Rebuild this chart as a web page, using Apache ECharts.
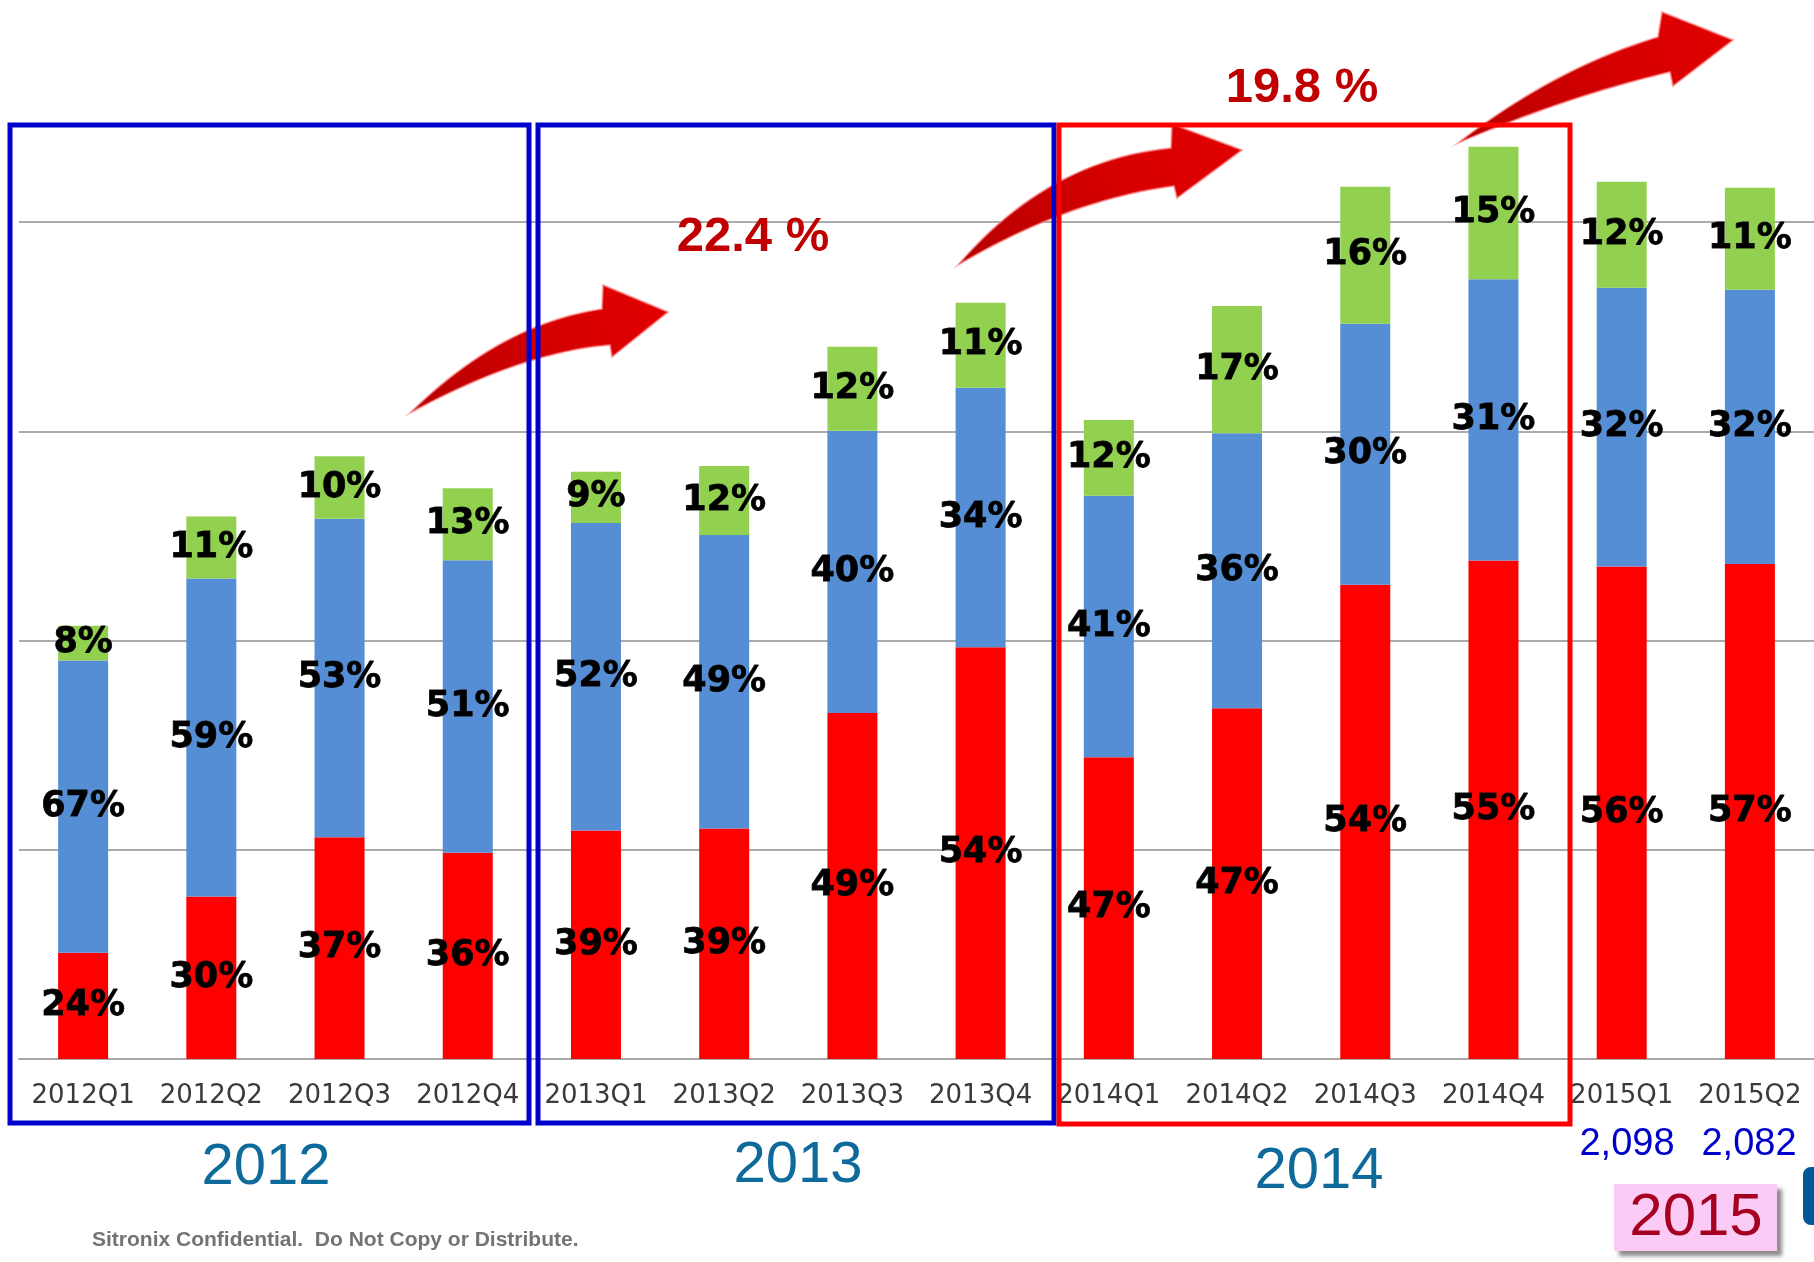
<!DOCTYPE html>
<html>
<head>
<meta charset="utf-8">
<script src="https://cdn.jsdelivr.net/npm/echarts@6/dist/echarts.min.js"></script>
<style>
  html, body { margin: 0; padding: 0; background: #fff; }
  #chart { width: 1814px; height: 1262px; }
</style>
</head>
<body>
<div id="chart"></div>
<script>
// quarters on the x axis
var quarters = ['2012Q1','2012Q2','2012Q3','2012Q4','2013Q1','2013Q2','2013Q3','2013Q4',
                '2014Q1','2014Q2','2014Q3','2014Q4','2015Q1','2015Q2'];
// stacked segments (same unit as the 2,098 / 2,082 totals)
var redVals   = [254, 388, 530, 493, 546, 551, 827, 984, 721, 838, 1133, 1191, 1177, 1183];
var blueVals  = [698, 760, 761, 699, 735, 701, 674, 620, 625, 657, 624, 672, 666, 655];
var greenVals = [83, 148, 149, 172, 122, 165, 201, 203, 181, 304, 327, 317, 253, 244];
// percentage labels printed in each segment
var redPct   = ['24%','30%','37%','36%','39%','39%','49%','54%','47%','47%','54%','55%','56%','57%'];
var bluePct  = ['67%','59%','53%','51%','52%','49%','40%','34%','41%','36%','30%','31%','32%','32%'];
var greenPct = ['8%','11%','10%','13%','9%','12%','12%','11%','12%','17%','16%','15%','12%','11%'];
// growth notes and year captions
var growthNotes = ['22.4 %', '19.8 %'];
var yearNames = ['2012', '2013', '2014', '2015'];
var totalNotes = ['2,098', '2,082'];

var myChart = echarts.init(document.getElementById('chart'));

var segLabel = function (texts) {
    return {
        show: true,
        position: 'inside',
        color: '#000',
        fontFamily: 'DejaVu Sans',
        fontWeight: 'bold',
        fontSize: 35,
        textBorderColor: '#111',
        textBorderWidth: 0.8,
        formatter: function (p) { return texts[p.dataIndex]; }
    };
};

var makeSeries = function (name, vals, color, texts) {
    return {
        name: name,
        type: 'bar',
        stack: 'total',
        barWidth: 50,
        clip: false,
        data: vals,
        itemStyle: { color: color },
        label: segLabel(texts)
    };
};

// swoosh arrow outline: quadratic edges sampled into a polygon
var quad = function (a, c, b, n) {
    var pts = [];
    for (var i = 0; i <= n; i++) {
        var t = i / n, u = 1 - t;
        pts.push([u * u * a[0] + 2 * u * t * c[0] + t * t * b[0],
                  u * u * a[1] + 2 * u * t * c[1] + t * t * b[1]]);
    }
    return pts;
};
var arrowPoints = function (t, c1, j1, b1, p, b2, j2, c2) {
    var pts = quad(t, c1, j1, 24);
    pts.push(b1, p, b2);
    return pts.concat(quad(j2, c2, t, 24));
};
var arrowStyle = function () {
    return {
        fill: new echarts.graphic.LinearGradient(0, 1, 1, 0, [
            { offset: 0, color: '#B40000' },
            { offset: 0.6, color: '#D80000' },
            { offset: 1, color: '#E20000' }
        ]),
        stroke: 'rgba(255,140,140,0.6)',
        lineWidth: 2
    };
};

var texts = function (txt, x, y, font, color) {
    return {
        type: 'text', z: 20,
        style: { text: txt, x: x, y: y, font: font, fill: color,
                 textAlign: 'center', textVerticalAlign: 'middle' }
    };
};

var chart_option = {
    animation: false,
    backgroundColor: '#fff',
    grid: { left: 19, width: 1800, top: 222, bottom: 203 },
    xAxis: {
        type: 'category',
        data: quarters,
        axisLine: { lineStyle: { color: '#A8A8A8', width: 2 } },
        axisTick: { length: 9, lineStyle: { color: '#A0A0A0', width: 1.5 } },
        axisLabel: {
            margin: 24,
            color: '#3A3A3A',
            fontFamily: 'DejaVu Sans',
            fontSize: 26,
            interval: 0
        }
    },
    yAxis: {
        type: 'value',
        min: 0,
        max: 2000,
        interval: 500,
        axisLine: { show: false },
        axisTick: { show: false },
        axisLabel: { show: false },
        splitLine: { lineStyle: { color: '#ABABAB', width: 2 } }
    },
    series: [
        makeSeries('red', redVals, '#FF0000', redPct),
        makeSeries('blue', blueVals, '#558ED5', bluePct),
        makeSeries('green', greenVals, '#92D050', greenPct)
    ],
    graphic: [
        // arrows
        { type: 'polygon', z: 10, shape: { points: arrowPoints([410, 413], [500, 324], [602, 309], [603, 285],
            [668, 312], [612, 357], [610, 345], [522, 352]) }, style: arrowStyle() },
        { type: 'polygon', z: 10, shape: { points: arrowPoints([958, 265], [1048, 160], [1171, 148], [1172, 124],
            [1242, 150], [1177, 198], [1174, 186], [1068, 200]) }, style: arrowStyle() },
        { type: 'polygon', z: 10, shape: { points: arrowPoints([1458, 143], [1555, 68], [1658, 37], [1662, 12],
            [1733, 40], [1673, 86], [1670, 72], [1568, 96]) }, style: arrowStyle() },
        // year boxes
        { type: 'rect', z: 12, shape: { x: 10, y: 125, width: 519, height: 998 },
          style: { fill: 'none', stroke: '#0000CC', lineWidth: 5 } },
        { type: 'rect', z: 12, shape: { x: 538, y: 125, width: 516, height: 998 },
          style: { fill: 'none', stroke: '#0000CC', lineWidth: 5 } },
        { type: 'rect', z: 12, shape: { x: 1059, y: 125, width: 511, height: 999 },
          style: { fill: 'none', stroke: '#FF0000', lineWidth: 5 } },
        // growth notes
        texts(growthNotes[0], 753, 237, 'bold 49px "Liberation Sans"', '#C00000'),
        texts(growthNotes[1], 1302, 88, 'bold 49px "Liberation Sans"', '#C00000'),
        // year captions
        texts(yearNames[0], 266, 1168, '58px "Liberation Sans"', '#0E6A9A'),
        texts(yearNames[1], 798, 1166, '58px "Liberation Sans"', '#0E6A9A'),
        texts(yearNames[2], 1319, 1172, '58px "Liberation Sans"', '#0E6A9A'),
        texts(totalNotes[0], 1627, 1145, '38px "Liberation Sans"', '#0000CC'),
        texts(totalNotes[1], 1749, 1145, '38px "Liberation Sans"', '#0000CC'),
        // 2015 tag
        { type: 'rect', z: 18, shape: { x: 1614, y: 1184, width: 163, height: 67 },
          style: { fill: '#FBCBF6', shadowColor: 'rgba(0,0,0,0.45)', shadowBlur: 4,
                   shadowOffsetX: 5, shadowOffsetY: 5 } },
        texts(yearNames[3], 1696, 1218, '60px "Liberation Sans"', '#A50021'),
        { type: 'rect', z: 18, shape: { x: 1803, y: 1167, width: 14, height: 58, r: [8, 0, 0, 8] },
          style: { fill: '#00589A' } },
        // footer
        { type: 'text', z: 20,
          style: { text: 'Sitronix Confidential.  Do Not Copy or Distribute.', x: 92, y: 1240,
                   font: 'bold 21px "Liberation Sans"', fill: '#737373',
                   textAlign: 'left', textVerticalAlign: 'middle' } }
    ]
};

myChart.setOption(chart_option);
</script>
</body>
</html>
